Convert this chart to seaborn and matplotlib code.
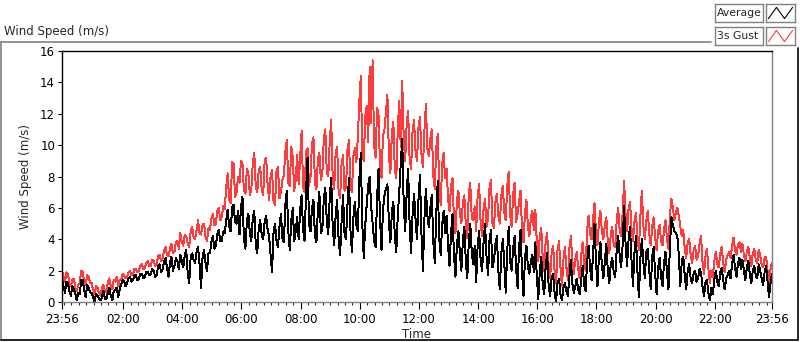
"""
Wind speed over one day (average vs 3 s gust), LabVIEW-style chart.
"""

import matplotlib
matplotlib.use("Agg")
import matplotlib.pyplot as plt
from matplotlib.lines import Line2D
import numpy as np
import seaborn as sns

# one reading every 3 minutes, starting at 23:56
GUST = [
    2.0, 1.6, 1.3, 1.9, 1.8, 1.2, 1.0, 1.4, 1.5, 0.9, 0.7, 1.1, 1.2, 2.0, 1.9, 1.3, 1.1, 1.7, 1.6, 1.2,  # 23:56
    1.2, 0.8, 0.5, 1.0, 0.9, 0.6, 0.4, 0.9, 1.1, 0.7, 0.6, 1.3, 1.5, 1.0, 0.8, 1.4, 1.3, 1.6, 1.0, 1.4,
    1.4, 1.8, 1.7, 1.5, 1.6, 1.9, 2.0, 1.7, 1.8, 2.1, 2.1, 1.9, 2.0, 2.3, 2.4, 2.1, 2.2, 2.5, 2.6, 2.3,  # 02:00
    2.3, 2.7, 2.6, 2.3, 2.4, 2.9, 3.0, 2.6, 2.8, 3.3, 3.5, 3.0, 2.9, 3.4, 3.7, 3.1, 3.2, 3.8, 3.9, 3.4,
    4.4, 3.8, 3.6, 4.3, 4.2, 3.7, 3.5, 4.5, 4.8, 4.1, 4.0, 4.6, 5.2, 4.4, 4.3, 4.9, 5.0, 4.2, 3.9, 4.7,  # 04:00
    4.6, 5.3, 5.6, 4.9, 5.0, 5.8, 6.0, 5.2, 5.4, 6.1, 5.9, 7.3, 8.2, 6.5, 6.3, 8.9, 8.8, 6.7, 7.0, 8.0,
    7.6, 9.0, 8.8, 7.1, 6.9, 8.5, 8.2, 6.8, 7.2, 8.9, 9.5, 7.3, 7.0, 8.4, 8.6, 7.2, 6.8, 9.0, 9.2, 7.5,  # 06:00
    6.5, 8.0, 8.4, 6.4, 6.2, 8.3, 8.6, 6.6, 7.0, 7.8, 8.1, 9.6, 10.3, 7.6, 7.4, 9.9, 9.2, 7.1, 7.8, 9.4,
    7.5, 9.2, 10.9, 7.3, 7.0, 9.6, 9.8, 7.4, 8.0, 10.1, 10.5, 7.6, 7.2, 9.1, 9.5, 7.8, 8.2, 10.4, 11.0, 8.3,  # 08:00
    8.0, 10.2, 11.6, 7.9, 7.2, 9.5, 9.9, 7.0, 6.6, 8.8, 9.4, 7.1, 7.3, 9.7, 10.3, 7.4, 7.0, 9.3, 9.8, 8.9,
    10.5, 12.8, 14.4, 9.6, 9.0, 11.8, 12.5, 10.2, 15.0, 11.4, 15.4, 10.0, 9.2, 12.4, 11.9, 8.6, 7.9, 10.6, 11.0, 12.1,  # 10:00
    13.2, 9.4, 8.2, 10.7, 11.5, 8.4, 7.9, 11.0, 12.8, 9.9, 14.1, 10.5, 9.0, 11.3, 12.2, 9.1, 8.5, 10.9, 11.6, 9.6,
    9.0, 11.1, 11.8, 9.4, 8.6, 10.9, 12.6, 9.8, 9.3, 10.4, 11.0, 8.1, 7.2, 9.8, 10.7, 7.6, 6.2, 8.8, 9.5, 7.9,  # 12:00
    8.5, 6.6, 5.8, 7.4, 7.9, 5.2, 4.4, 6.5, 7.1, 5.6, 5.0, 6.3, 6.8, 4.9, 4.1, 6.9, 7.6, 5.4, 5.2, 6.1,
    4.5, 6.8, 7.5, 5.1, 4.2, 5.9, 6.6, 4.8, 5.3, 7.2, 7.8, 5.0, 4.7, 6.4, 6.9, 5.5, 5.0, 6.8, 7.4, 5.7,  # 14:00
    5.2, 7.4, 8.3, 5.5, 4.8, 6.9, 7.6, 5.1, 5.6, 6.4, 7.1, 4.6, 3.8, 5.7, 6.5, 4.8, 4.2, 5.4, 5.8, 4.6,
    5.9, 3.8, 2.6, 4.2, 4.7, 2.8, 2.0, 3.9, 4.4, 2.3, 1.5, 3.1, 3.6, 2.0, 1.2, 3.3, 3.9, 2.2, 1.0, 2.7,  # 16:00
    3.5, 2.2, 1.4, 3.4, 4.2, 2.6, 1.8, 2.7, 3.2, 2.1, 1.5, 3.0, 3.8, 2.5, 2.0, 4.6, 5.5, 4.3, 4.0, 5.2,
    6.3, 4.4, 3.6, 5.1, 5.8, 4.5, 4.0, 4.9, 5.4, 3.8, 3.1, 4.3, 4.8, 3.6, 3.5, 5.2, 6.0, 4.6, 4.2, 5.6,  # 18:00
    7.7, 5.6, 4.5, 5.9, 6.4, 4.7, 3.9, 5.1, 5.7, 4.1, 3.3, 5.4, 7.1, 4.9, 4.0, 5.2, 5.8, 4.4, 3.6, 4.8,
    5.4, 4.1, 3.3, 4.5, 4.9, 3.9, 3.6, 4.6, 5.2, 4.0, 3.4, 5.5, 6.6, 6.0, 5.2, 5.7, 6.0, 5.5, 4.8, 4.2,  # 20:00
    4.6, 3.4, 2.8, 3.8, 4.0, 3.0, 2.5, 3.3, 3.6, 2.7, 2.9, 3.7, 4.2, 2.6, 1.8, 2.9, 3.4, 2.1, 1.2, 2.0,
    1.6, 2.6, 3.2, 2.4, 2.2, 3.1, 3.5, 2.5, 1.9, 2.7, 3.0, 3.2, 2.8, 3.6, 4.1, 3.3, 3.0, 3.7, 3.8, 3.2,  # 22:00
    3.7, 3.0, 2.6, 3.2, 3.5, 2.8, 2.3, 3.1, 3.4, 2.7, 2.5, 3.3, 3.0, 2.4, 2.2, 2.8, 2.9, 2.0, 1.3, 2.1,
    2.5,
]

AVERAGE = [
    1.5, 1.0, 0.6, 1.3, 1.2, 0.7, 0.4, 1.0, 0.8, 0.5, 0.1, 0.6, 0.5, 1.4, 1.4, 0.8, 0.3, 1.1, 0.9, 0.6,  # 23:56
    0.6, 0.3, 0.0, 0.5, 0.4, 0.2, 0.1, 0.3, 0.7, 0.2, 0.2, 0.6, 0.9, 0.4, 0.1, 0.7, 0.8, 0.9, 0.3, 0.8,
    1.1, 1.4, 1.3, 1.0, 1.2, 1.5, 1.6, 1.3, 1.4, 1.7, 1.7, 1.4, 1.5, 1.8, 1.8, 1.5, 1.6, 1.9, 1.9, 1.7,  # 02:00
    1.8, 2.1, 2.0, 1.6, 1.7, 2.3, 2.4, 1.9, 2.1, 2.6, 2.8, 2.2, 1.6, 2.5, 2.9, 2.0, 2.3, 2.8, 2.6, 2.1,
    3.0, 2.6, 2.2, 3.0, 3.3, 1.8, 1.2, 2.9, 3.1, 2.7, 2.5, 3.2, 3.5, 2.4, 0.9, 2.8, 3.3, 2.5, 2.0, 3.1,  # 04:00
    3.1, 3.8, 4.2, 3.4, 3.6, 4.3, 4.6, 3.9, 3.9, 4.5, 4.4, 5.2, 5.9, 4.8, 4.5, 6.0, 6.2, 5.1, 5.0, 5.8,
    4.3, 6.1, 6.7, 4.0, 3.4, 5.2, 5.6, 4.4, 3.9, 5.4, 5.8, 3.6, 3.1, 4.7, 5.2, 4.3, 4.0, 5.1, 5.5, 4.6,  # 06:00
    4.2, 3.0, 1.9, 4.4, 5.0, 3.9, 3.5, 4.8, 5.6, 4.1, 3.8, 6.2, 7.1, 4.5, 3.3, 5.2, 6.0, 3.9, 4.5, 5.4,
    4.0, 5.9, 6.8, 4.6, 3.9, 7.1, 9.2, 5.0, 4.5, 6.0, 6.5, 4.2, 3.8, 5.9, 7.0, 4.4, 4.6, 6.6, 7.3, 5.2,  # 08:00
    4.3, 6.7, 7.9, 4.8, 3.6, 5.5, 6.5, 4.0, 3.0, 5.1, 6.8, 4.4, 4.0, 6.2, 7.9, 4.6, 3.2, 5.4, 6.4, 4.9,
    4.5, 7.8, 9.5, 5.0, 2.8, 4.9, 6.2, 7.4, 8.0, 6.1, 5.0, 3.9, 3.5, 6.6, 8.5, 5.3, 3.3, 5.9, 6.8, 7.2,  # 10:00
    7.5, 5.1, 3.8, 5.7, 6.4, 4.2, 3.2, 5.5, 7.0, 8.8, 10.4, 6.3, 4.5, 6.9, 8.5, 5.0, 3.1, 5.6, 6.9, 5.3,
    4.0, 6.5, 8.1, 4.4, 2.0, 5.3, 7.2, 5.5, 4.8, 6.0, 6.8, 3.9, 2.5, 5.6, 7.7, 4.1, 3.0, 4.9, 5.8, 4.4,  # 12:00
    5.5, 3.6, 2.3, 4.4, 5.6, 3.0, 1.6, 3.7, 4.5, 3.1, 2.0, 3.9, 4.8, 2.6, 1.5, 3.8, 5.0, 3.2, 2.4, 3.6,
    1.3, 3.6, 4.5, 2.7, 2.0, 3.8, 5.0, 2.9, 1.7, 3.9, 4.6, 2.2, 2.6, 3.7, 4.2, 2.0, 0.8, 3.1, 4.0, 2.5,  # 14:00
    0.6, 3.3, 4.8, 2.6, 2.0, 3.4, 4.2, 2.1, 0.9, 3.5, 4.6, 1.9, 0.4, 2.8, 3.6, 2.2, 1.8, 2.6, 3.0, 1.9,
    3.8, 1.6, 0.2, 1.9, 2.9, 1.1, 0.5, 2.3, 3.1, 1.0, 0.4, 1.5, 1.8, 0.6, 0.0, 1.2, 1.5, 0.5, 0.1, 0.9,  # 16:00
    1.2, 0.7, 0.4, 1.6, 2.7, 1.2, 0.6, 1.0, 1.5, 0.8, 0.5, 1.4, 2.3, 1.1, 0.7, 2.5, 3.6, 2.2, 1.4, 3.0,
    5.0, 2.6, 1.0, 2.9, 3.8, 2.3, 1.5, 2.6, 3.7, 2.0, 1.2, 2.4, 2.8, 1.9, 1.6, 3.3, 4.2, 3.0, 2.2, 3.6,  # 18:00
    6.1, 3.7, 2.3, 3.9, 4.8, 2.7, 1.0, 3.1, 4.2, 2.0, 0.3, 2.8, 4.0, 2.6, 1.5, 3.2, 3.4, 2.0, 0.8, 2.9,
    3.5, 1.8, 0.5, 2.2, 2.8, 1.6, 1.0, 2.5, 3.2, 1.9, 0.8, 3.6, 5.4, 4.9, 4.5, 4.4, 4.2, 3.0, 1.0, 2.6,  # 20:00
    2.9, 1.7, 0.8, 2.0, 2.4, 1.5, 1.2, 1.8, 2.0, 1.3, 1.5, 2.1, 1.9, 1.0, 0.4, 1.2, 1.4, 0.6, 0.1, 0.9,
    0.5, 1.4, 2.0, 1.3, 1.0, 1.9, 2.2, 1.4, 0.8, 1.5, 1.7, 2.0, 1.5, 2.4, 3.0, 2.2, 1.6, 2.5, 2.8, 2.1,  # 22:00
    2.7, 2.0, 1.4, 2.2, 2.6, 1.8, 1.2, 2.0, 2.3, 1.7, 1.5, 2.4, 2.0, 1.5, 1.1, 1.9, 2.3, 1.3, 0.3, 1.2,
    1.8,
]

STEP_MIN = 3
TICK_MIN = [0, 124, 244, 364, 484, 604, 724, 844, 964, 1084, 1204, 1324, 1440]
TICK_LABELS = ["23:56", "02:00", "04:00", "06:00", "08:00", "10:00", "12:00",
               "14:00", "16:00", "18:00", "20:00", "22:00", "23:56"]
Y_TICKS = [0, 2, 4, 6, 8, 10, 12, 14, 16]

GUST_COLOR = "#ff3b3b"
AVG_COLOR = "black"
FRAME_GRAY = "#808080"

sns.set_theme(style="ticks")
plt.rcParams["font.family"] = ["DejaVu Sans"]

W, H = 800, 342
fig = plt.figure(figsize=(W / 100, H / 100), dpi=100)
fig.patch.set_facecolor("white")


def fx(px):
    return px / W


def fy(py):
    return 1 - py / H


ax = fig.add_axes([fx(62), fy(302), fx(772) - fx(62), fy(51) - fy(302)])

minutes = np.arange(len(GUST)) * STEP_MIN
sns.lineplot(x=minutes, y=GUST, ax=ax, color=GUST_COLOR, lw=0.7,
             estimator=None, antialiased=False)
sns.lineplot(x=minutes, y=AVERAGE, ax=ax, color=AVG_COLOR, lw=0.7,
             estimator=None, antialiased=False)

ax.set_xlim(0, 1440)
ax.set_ylim(0, 16)
ax.set_xticks(TICK_MIN)
ax.set_xticklabels(TICK_LABELS)
ax.set_xticks(np.arange(4, 1440, 15), minor=True)
ax.set_yticks(Y_TICKS)
ax.tick_params(axis="both", labelsize=8.5, colors="black", width=0.8)
ax.tick_params(axis="x", which="major", length=5, pad=3)
ax.tick_params(axis="x", which="minor", length=2.5, width=0.8)
ax.tick_params(axis="y", length=3, pad=2)

for side in ["top", "left"]:
    ax.spines[side].set_color("black")
    ax.spines[side].set_linewidth(1.0)
for side in ["bottom", "right"]:
    ax.spines[side].set_visible(True)
    ax.spines[side].set_color(FRAME_GRAY)
    ax.spines[side].set_linewidth(1.0)

ax.set_xlabel("Time", fontsize=8.5, labelpad=1)
ax.set_ylabel("Wind Speed (m/s)", fontsize=8.5, labelpad=6)

# chart title top-left
fig.text(fx(4), fy(32), "Wind Speed (m/s)", fontsize=8.5, va="center", ha="left")

# outer frame: gray top/left, black bottom/right
fig.add_artist(Line2D([fx(1), fx(711)], [fy(42), fy(42)], color=FRAME_GRAY, lw=1.2))
fig.add_artist(Line2D([fx(1), fx(1)], [fy(42), fy(340)], color=FRAME_GRAY, lw=1.2))
fig.add_artist(Line2D([fx(1), fx(798)], [fy(340), fy(340)], color="black", lw=1.2))
fig.add_artist(Line2D([fx(798), fx(798)], [fy(48), fy(340)], color="black", lw=1.2))

# legend: label boxes and line-icon boxes
ICON_X = [0, 1, 2, 3]
ICON_Y = [0, 1, 0, 1]
for label, color, top in [("Average", AVG_COLOR, 4), ("3s Gust", GUST_COLOR, 27)]:
    lab = fig.add_axes([fx(715), fy(top + 18), fx(763) - fx(715), fy(top) - fy(top + 18)])
    lab.set_xticks([])
    lab.set_yticks([])
    for s in lab.spines.values():
        s.set_color(FRAME_GRAY)
        s.set_linewidth(1.0)
    lab.text(0.04, 0.5, label, fontsize=7.8, va="center", ha="left", transform=lab.transAxes)

    icon = fig.add_axes([fx(766), fy(top + 18), fx(795) - fx(766), fy(top) - fy(top + 18)])
    icon.plot(ICON_X, ICON_Y, color=color, lw=0.8)
    icon.set_xlim(-0.3, 3.3)
    icon.set_ylim(-0.3, 1.3)
    icon.set_xticks([])
    icon.set_yticks([])
    for s in icon.spines.values():
        s.set_color(FRAME_GRAY)
        s.set_linewidth(1.0)

fig.savefig("out.png", dpi=100)
